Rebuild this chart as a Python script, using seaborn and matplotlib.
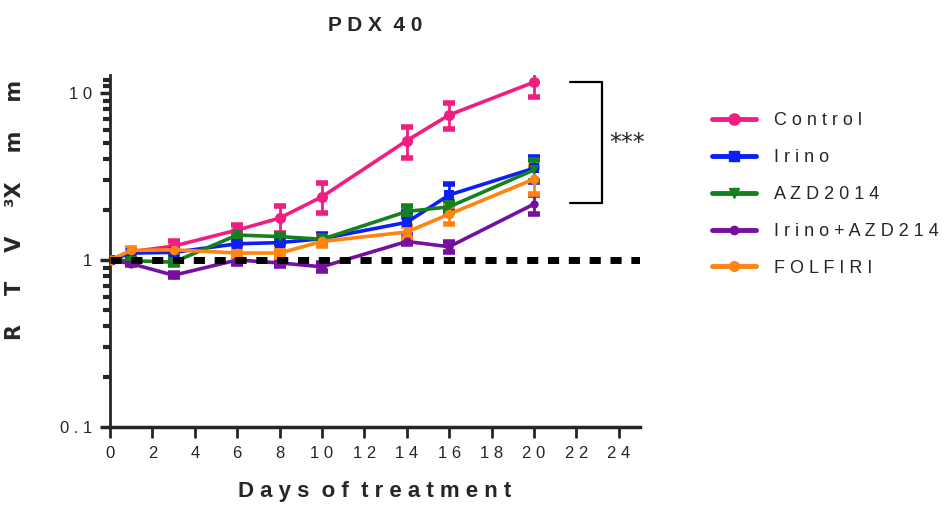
import numpy as np
import pandas as pd
import matplotlib
matplotlib.use("Agg")
import matplotlib.pyplot as plt
import seaborn as sns
from matplotlib.ticker import FixedLocator, NullFormatter
from matplotlib.lines import Line2D

days = [0, 1, 3, 6, 8, 10, 14, 16, 20]
groups = ["Control", "Irino", "AZD2014", "Irino+AZD214", "FOLFIRI"]
legend_labels = ["C o n t r o l", "I r i n o", "A Z D 2 0 1 4", "I r i n o + A Z D 2 1 4", "F O L F I R I"]
control = [1.0, 1.12, 1.21, 1.51, 1.78, 2.39, 5.18, 7.38, 11.6]
control_err = [0.0, 0.04, 0.08, 0.10, 0.33, 0.48, 1.1, 1.3, 2.2]
irino = [1.0, 1.10, 1.11, 1.25, 1.27, 1.34, 1.68, 2.45, 3.54]
irino_err = [0.0, 0.03, 0.03, 0.06, 0.06, 0.10, 0.27, 0.40, 0.60]
azd = [1.0, 0.99, 0.97, 1.41, 1.38, 1.33, 1.95, 2.08, 3.46]
azd_err = [0.0, 0.03, 0.04, 0.06, 0.06, 0.06, 0.15, 0.15, 0.50]
combo = [1.0, 0.95, 0.81, 1.0, 0.96, 0.91, 1.29, 1.20, 2.16]
combo_err = [0.0, 0.02, 0.02, 0.05, 0.04, 0.05, 0.05, 0.08, 0.28]
folfiri = [1.0, 1.14, 1.15, 1.10, 1.10, 1.29, 1.47, 1.88, 3.05]
folfiri_err = [0.0, 0.04, 0.04, 0.05, 0.06, 0.08, 0.12, 0.23, 0.57]
colors = ["#F01E82", "#0A1EF5", "#14801E", "#74119E", "#FF8410"]
markers = ["o", "s", "v", "o", "o"]
msizes = [8, 7, 7, 6, 7]

values = [control, irino, azd, combo, folfiri]
errors = [control_err, irino_err, azd_err, combo_err, folfiri_err]

rows = []
for g, v, e in zip(groups, values, errors):
    for d, y, er in zip(days, v, e):
        rows.append({"day": d, "rtv": y, "err": er, "group": g})
df = pd.DataFrame(rows)

sns.set_style("ticks")
plt.rcParams["font.family"] = ["Liberation Sans Narrow", "Liberation Sans", "DejaVu Sans"]

fig = plt.figure(figsize=(9.52, 5.18), dpi=100)
ax = fig.add_axes([110/952, 1-427/518, 530/952, (427-75)/518])

# dashed baseline at 1
ax.plot([0, 25], [1, 1], color="black", lw=5, dashes=(1.6, 1.4), zorder=4, solid_capstyle="butt")

for g, c in zip(groups, colors):
    sub = df[df["group"] == g]
    ax.errorbar(sub["day"], sub["rtv"], yerr=sub["err"], fmt="none", ecolor=c,
                elinewidth=2, capsize=4, capthick=4, zorder=2)

sns.lineplot(data=df, x="day", y="rtv", hue="group", style="group",
             palette=dict(zip(groups, colors)),
             markers=dict(zip(groups, markers)), dashes=False,
             linewidth=2.6, markersize=8, markeredgewidth=0,
             ax=ax, legend=False, zorder=3)
for line, ms in zip(ax.lines[-5:], msizes):
    line.set_markersize(ms)

ax.set_yscale("log")
ax.set_ylim(0.1, 12.8)
ax.set_xlim(0, 25)
ax.yaxis.set_major_locator(FixedLocator([0.1, 1, 10]))
ax.set_yticklabels(["0 . 1", "1", "1 0"])
minor = [k * 10.0 ** p for p in (-1, 0) for k in range(2, 10)] + [11, 12]
ax.yaxis.set_minor_locator(FixedLocator(minor))
ax.yaxis.set_minor_formatter(NullFormatter())
ax.set_xticks(list(range(0, 25, 2)))
ax.set_xticklabels([" ".join(str(t)) for t in range(0, 25, 2)])

for s in ["top", "right"]:
    ax.spines[s].set_visible(False)
ax.spines["left"].set_linewidth(2)
ax.spines["bottom"].set_linewidth(2.5)
ax.tick_params(axis="both", which="major", width=2.5, length=7, labelsize=12, pad=6)
ax.tick_params(axis="y", which="minor", width=3, length=5)
ax.tick_params(axis="x", which="major", width=2, length=8)

ax.set_xlabel("D a y s  o f  t r e a t m e n t", fontsize=16, fontweight="bold", labelpad=14)
ax.set_ylabel("R    T    V    ³X    m    m", fontsize=15, fontweight="bold",
              family=["DejaVu Sans"])
ax.yaxis.set_label_coords(-0.16, 0.616)
ax.set_title("P D X  4 0", fontsize=15, fontweight="bold", pad=32)

# significance bracket
bk = dict(color="black", lw=1.6, clip_on=False)
ax.plot([21.7, 23.2], [11.7, 11.7], **bk)
ax.plot([23.2, 23.2], [11.7, 2.19], **bk)
ax.plot([21.7, 23.2], [2.19, 2.19], **bk)
ax.text(23.55, 5.0, "***", fontsize=17, family=["DejaVu Sans"], va="center", ha="left")

# legend
handles = [Line2D([0], [0], color=c, marker=m, lw=3.5, markersize=ms)
           for c, m, ms in zip(colors, markers, msizes)]
fig.legend(handles, legend_labels, loc="upper left", bbox_to_anchor=(696/952, 1-96/518),
           frameon=False, fontsize=13, handlelength=2.4, labelspacing=1.1,
           handletextpad=1.0)

fig.savefig("out.png", dpi=100)
